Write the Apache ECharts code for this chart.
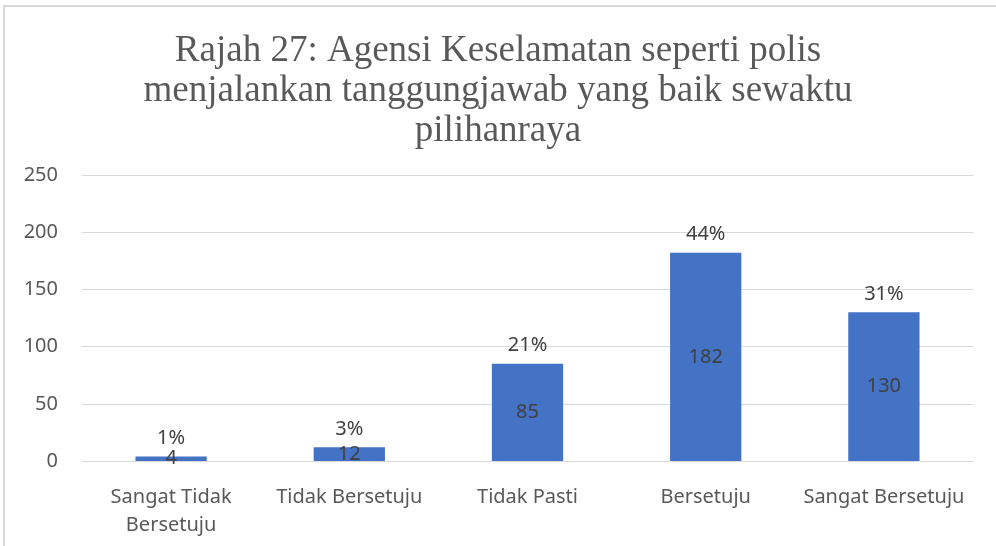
<!DOCTYPE html>
<html>
<head>
<meta charset="utf-8">
<script src="https://cdn.jsdelivr.net/npm/echarts@6/dist/echarts.min.js"></script>
<style>
  html, body { margin: 0; padding: 0; background: #fff; }
  #main { width: 996px; height: 546px; }
</style>
</head>
<body>
<div id="main"></div>
<script>
var categories = ["Sangat Tidak\nBersetuju", "Tidak Bersetuju", "Tidak Pasti", "Bersetuju", "Sangat Bersetuju"];
var counts = [4, 12, 85, 182, 130];
var percents = ["1%", "3%", "21%", "44%", "31%"];
var yTicks = { min: 0, max: 250, interval: 50 };

var chart = echarts.init(document.getElementById("main"));
var option = {
  animation: false,
  backgroundColor: "#fff",
  title: {
    text: "Rajah 27: Agensi Keselamatan seperti polis\nmenjalankan tanggungjawab yang baik sewaktu\npilihanraya",
    left: "center",
    top: 31,
    padding: [0, 0, 0, 14],
    textStyle: {
      fontFamily: "Liberation Serif",
      fontWeight: "normal",
      fontSize: 37,
      lineHeight: 40,
      color: "#595959",
      align: "center"
    }
  },
  grid: { left: 82, right: 23, top: 175, bottom: 85 },
  xAxis: {
    type: "category",
    data: categories,
    axisLine: { lineStyle: { color: "#d9d9d9" } },
    axisTick: { show: false },
    axisLabel: {
      interval: 0,
      margin: 22,
      fontFamily: "Noto Sans",
      fontSize: 20,
      lineHeight: 28,
      color: "#595959"
    }
  },
  yAxis: {
    type: "value",
    min: yTicks.min,
    max: yTicks.max,
    interval: yTicks.interval,
    axisLine: { show: false },
    axisTick: { show: false },
    splitLine: { lineStyle: { color: "#d9d9d9", width: 1 } },
    axisLabel: {
      margin: 24,
      fontFamily: "Noto Sans",
      fontSize: 20,
      color: "#595959"
    }
  },
  series: [
    {
      type: "bar",
      data: counts,
      barWidth: "40%",
      itemStyle: { color: "#4472c4" },
      label: {
        show: true,
        position: "inside",
        fontFamily: "Noto Sans",
        fontSize: 20,
        color: "#404040"
      }
    },
    {
      type: "bar",
      data: counts,
      barWidth: "40%",
      barGap: "-100%",
      silent: true,
      itemStyle: { color: "rgba(0,0,0,0)" },
      label: {
        show: true,
        position: "top",
        distance: 8,
        fontFamily: "Noto Sans",
        fontSize: 20,
        color: "#404040",
        formatter: function (p) { return percents[p.dataIndex]; }
      }
    }
  ],
  graphic: [
    {
      type: "polyline",
      shape: { points: [[4, 546], [4, 6], [996, 6]] },
      style: { stroke: "#d9d9d9", lineWidth: 2, fill: null }
    }
  ]
};
chart.setOption(option);
</script>
</body>
</html>
